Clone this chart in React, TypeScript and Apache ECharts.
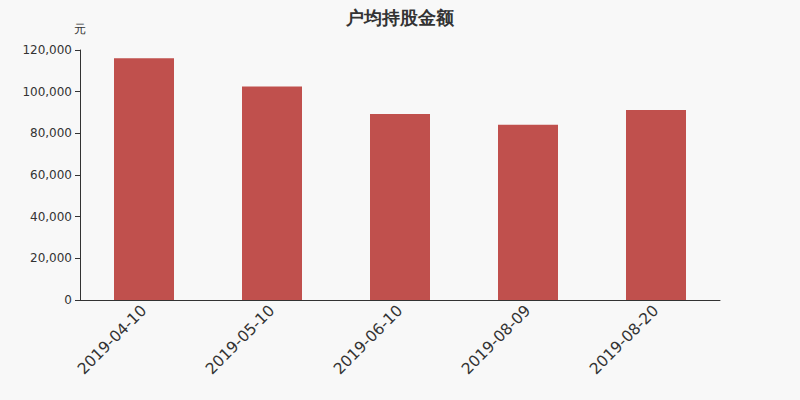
import React, { useEffect, useRef } from "react";
import * as echarts from "echarts";

const categories = ["2019-04-10", "2019-05-10", "2019-06-10", "2019-08-09", "2019-08-20"];
const values = [116000, 102500, 89300, 84100, 91200];

export default function App() {
  const ref = useRef<HTMLDivElement>(null);
  useEffect(() => {
    document.body.style.margin = "0";
    const chart = echarts.init(ref.current!, null, { renderer: "svg" });
    chart.setOption({
      animation: false,
      backgroundColor: "#f8f8f8",
      textStyle: { fontFamily: "DejaVu Sans" },
      title: {
        text: "户均持股金额",
        left: "center",
        top: 3,
        textStyle: { fontSize: 18, fontWeight: "bold", color: "#333", fontFamily: "DejaVu Sans" },
      },
      grid: { left: 80, right: 80, top: 50, bottom: 100 },
      xAxis: {
        type: "category",
        data: categories,
        axisLine: { lineStyle: { color: "#333" } },
        axisTick: { lineStyle: { color: "#333" } },
        axisLabel: { rotate: 45, fontSize: 15.5, color: "#333", margin: 8, fontFamily: "DejaVu Sans" },
      },
      yAxis: {
        type: "value",
        name: "元",
        min: 0,
        max: 120000,
        interval: 20000,
        nameTextStyle: { color: "#333", fontSize: 12 },
        axisLine: { show: true, lineStyle: { color: "#333" } },
        axisTick: { show: true, lineStyle: { color: "#333" } },
        axisLabel: { color: "#333", fontSize: 12, fontFamily: "DejaVu Sans" },
        splitLine: { show: false },
      },
      series: [
        {
          type: "bar",
          data: values,
          barWidth: 60,
          itemStyle: { color: "#c0504d" },
        },
      ],
    });
    return () => chart.dispose();
  }, []);
  return <div ref={ref} style={{ width: 800, height: 400 }} />;
}
